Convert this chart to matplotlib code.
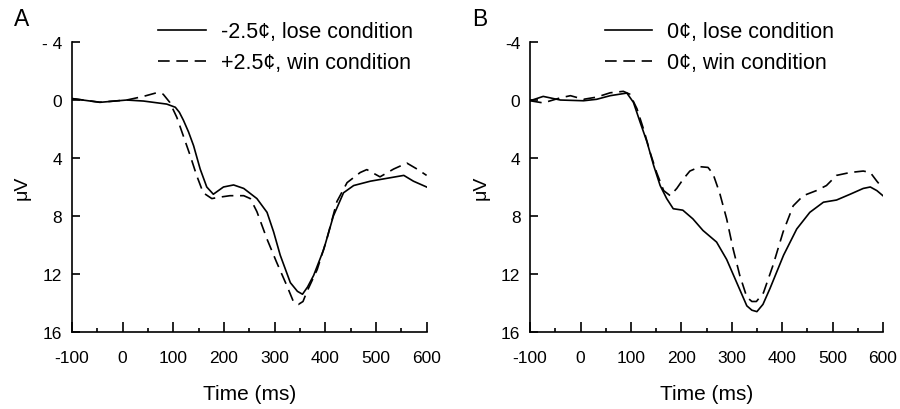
import matplotlib

matplotlib.use("Agg")
import matplotlib.pyplot as plt
from matplotlib.ticker import MultipleLocator

plt.rcParams["font.family"] = ["Liberation Sans", "DejaVu Sans"]
plt.rcParams["axes.unicode_minus"] = False

# ---- panel A : -2.5c lose vs +2.5c win (uV)
a_lose_t = [-100, -45, 8, 41, 87, 104, 112, 120, 130, 140, 153, 166, 179, 199,
            219, 239, 265, 285, 298, 311, 331, 345, 355, 365, 377, 397, 416,
            436, 456, 489, 522, 555, 574, 600]
a_lose_v = [-0.1, 0.16, 0.0, 0.07, 0.28, 0.5, 0.85, 1.4, 2.2, 3.15, 4.76, 6.0,
            6.5, 6.0, 5.86, 6.1, 6.8, 7.75, 9.1, 10.7, 12.6, 13.2, 13.4, 12.9,
            12.1, 10.3, 8.0, 6.4, 5.9, 5.6, 5.4, 5.2, 5.6, 6.0]
a_win_t = [-100, -45, 8, 41, 67, 80, 93, 107, 120, 133, 146, 159, 176, 192,
           212, 239, 252, 265, 285, 304, 324, 337, 347, 356, 364, 384, 403,
           423, 443, 469, 482, 508, 535, 561, 581, 600]
a_win_v = [-0.1, 0.15, 0.0, -0.25, -0.5, -0.4, 0.16, 1.2, 2.5, 3.8, 5.2, 6.4,
           6.8, 6.7, 6.6, 6.6, 6.8, 7.7, 9.6, 11.2, 12.8, 13.9, 14.1, 13.9,
           13.2, 11.7, 9.6, 7.0, 5.7, 5.0, 4.8, 5.3, 4.76, 4.35, 4.76, 5.2]

# ---- panel B : 0c lose vs 0c win
b_lose_t = [-100, -74, -40, 6, 32, 59, 92, 105, 118, 132, 145, 158, 171, 184,
            203, 223, 243, 270, 290, 310, 330, 340, 350, 362, 376, 403, 429,
            455, 482, 508, 535, 561, 575, 588, 600]
b_lose_v = [0.05, -0.25, 0.0, 0.05, -0.05, -0.3, -0.48, 0.16, 1.5, 2.9, 4.5,
            5.9, 6.8, 7.5, 7.6, 8.2, 9.0, 9.8, 11.0, 12.6, 14.2, 14.5, 14.6,
            14.1, 13.0, 10.7, 8.9, 7.75, 7.05, 6.9, 6.5, 6.1, 6.0, 6.25, 6.6]
b_win_t = [-100, -74, -40, -20, 6, 32, 59, 85, 98, 112, 125, 138, 151, 165,
           178, 191, 204, 217, 237, 253, 263, 276, 290, 303, 316, 330, 340,
           349, 363, 382, 402, 422, 442, 468, 488, 508, 535, 561, 575, 588,
           600]
b_win_v = [0.05, 0.2, -0.15, -0.3, -0.05, -0.2, -0.5, -0.6, -0.4, 0.6, 2.0,
           3.6, 5.0, 6.25, 6.6, 6.1, 5.45, 4.9, 4.6, 4.65, 5.1, 6.4, 8.2, 10.3,
           12.1, 13.6, 13.9, 13.9, 13.3, 11.4, 9.1, 7.3, 6.6, 6.25, 5.9, 5.2,
           5.0, 4.9, 5.0, 5.6, 6.1]

panels = [
    ("A", a_lose_t, a_lose_v, a_win_t, a_win_v,
     ["-2.5\u00a2, lose condition", "+2.5\u00a2, win condition"], "- 4", 0.243),
    ("B", b_lose_t, b_lose_v, b_win_t, b_win_v,
     ["0\u00a2, lose condition", "0\u00a2, win condition"], "-4", 0.212),
]
yticks = [-4, 0, 4, 8, 12, 16]

fig = plt.figure(figsize=(9, 4.1), dpi=100)
rects = [[0.080, 0.188, 0.394, 0.707], [0.589, 0.188, 0.392, 0.707]]

for rect, (letter, lt, lv, wt, wv, labels, top_lbl, leg_x) in zip(rects, panels):
    ax = fig.add_axes(rect)
    ax.plot(lt, lv, color="black", lw=1.2, label=labels[0])
    ax.plot(wt, wv, color="black", lw=1.2, dashes=(7, 4), label=labels[1])
    ax.set_xlim(-100, 600)
    ax.set_ylim(16, -4)
    ax.set_xticks(range(-100, 601, 100))
    ax.xaxis.set_minor_locator(MultipleLocator(50))
    ax.set_yticks(yticks)
    ax.set_yticklabels([top_lbl] + [str(v) for v in yticks[1:]])
    for s in ("top", "right"):
        ax.spines[s].set_visible(False)
    for s in ("left", "bottom"):
        ax.spines[s].set_linewidth(1.2)
    ax.tick_params(which="major", direction="in", length=5.5, width=1.2,
                   labelsize=12.5)
    ax.tick_params(which="minor", direction="in", length=3, width=1.2)
    ax.tick_params(axis="x", which="major", length=7, pad=13)
    ax.tick_params(axis="y", which="major", pad=7)
    ax.set_xlabel("Time (ms)", fontsize=15, labelpad=14)
    ax.set_ylabel("\u03bcV", fontsize=14, labelpad=8)
    ax.legend(loc="upper left", bbox_to_anchor=(leg_x, 1.072), frameon=False,
              fontsize=15.5, handlelength=2.2, handletextpad=0.7,
              labelspacing=0.47, borderaxespad=0, borderpad=0)
    ax.text(-0.165, 1.08, letter, transform=ax.transAxes, fontsize=16.5,
            va="center", ha="left")

fig.savefig("out.png", dpi=100)
